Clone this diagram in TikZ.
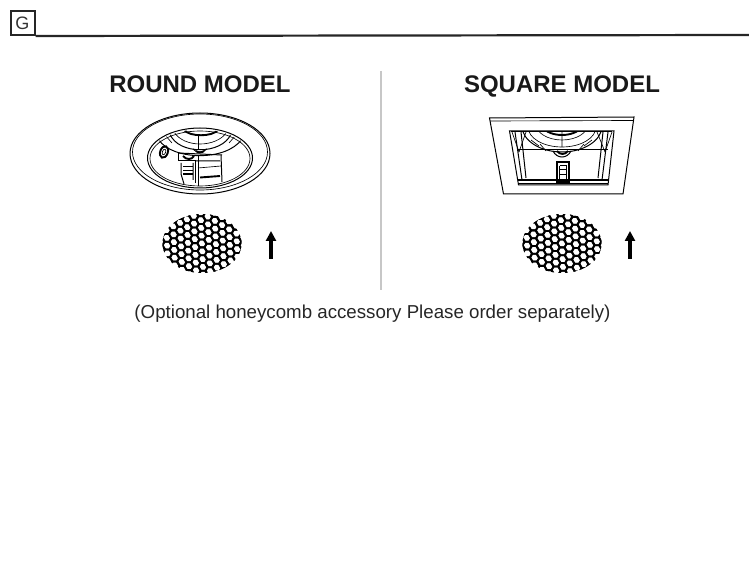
\documentclass[tikz,border=0pt]{standalone}
\usepackage{fontspec}
\setmainfont{Liberation Sans}
\usetikzlibrary{arrows.meta}
\tikzset{
  ln/.style={line width=1pt,black},
  fn/.style={line width=0.65pt,black},
  hv/.style={line width=1.9pt,black},
  heading/.style={font=\fontsize{24}{28}\selectfont\bfseries,text=black!90,inner sep=0pt,anchor=base},
  upper/.style={line width=3.3pt,-{Triangle[length=10pt,width=10pt]}},
  pics/honey/.style={code={
    \begin{scope}
      \clip (0,0) ellipse [x radius=39.5,y radius=29.5];
      \foreach \c in {-6,...,6}{
        \foreach \r in {-5,...,5}{
          \pgfmathsetmacro{\xx}{\c*7.0+0.35*\r}
          \pgfmathsetmacro{\yy}{(\r+0.5*mod(abs(\c),2))*7.8+0.35*\c}
          \draw[line width=1.8pt,black,line join=round,shift={(\xx,\yy)}]
            (-4.7,0) -- (-2.35,3.9) -- (2.35,3.9) -- (4.7,0) -- (2.35,-3.9) -- (-2.35,-3.9) -- cycle;
        }
      }
    \end{scope}
  }}
}
\begin{document}
\begin{tikzpicture}[x=1pt,y=-1pt]
\useasboundingbox (0,0) rectangle (749,561);
% header
\node[draw=black!85,line width=2pt,minimum width=24pt,minimum height=24pt,inner sep=0pt,font=\fontsize{18}{20}\selectfont,text=black!80] (G) at (22.5,23) {G};
\coordinate (hr) at (749,35);
\draw[line width=2.2pt,black!85] (G.south east) -- (hr);
% titles
\node[heading] (t1) at (200,93) {ROUND MODEL};
\node[heading] (t2) at (562,93) {SQUARE MODEL};
\draw[line width=1.6pt,black!22] (381,71) -- (381,290);
\node[font=\fontsize{18.7}{22}\selectfont,text=black!85,inner sep=0pt,anchor=base] (cap) at (372.5,318) {(Optional honeycomb accessory Please order separately)};

% ROUND fixture
\begin{scope}
\draw[ln] (200,153.5) ellipse [x radius=70,y radius=40.5];
\draw[fn] (200,152) ellipse [x radius=67.5,y radius=38];
\draw[ln] (200,158) ellipse [x radius=52.5,y radius=30];
\draw[fn] (200,158.5) ellipse [x radius=50,y radius=27.5];
\begin{scope}
\clip (200,158) ellipse [x radius=51,y radius=28.5];
\draw[ln] (170,134) .. controls (178,155) and (222,155) .. (231,134);
\draw[fn] (174,132) .. controls (184,148) and (216,148) .. (227,132);
\draw[hv] (184,130) .. controls (190,137) and (212,137) .. (218,130);
\draw[ln] (159,140) .. controls (172,160) and (226,162) .. (242,139);
\draw[fn] (165,135) -- (172,143) (236,135) -- (229,143);
\draw[fn] (198,135) -- (198,150);
\end{scope}
\draw[ln] (193,149) .. controls (196,153) and (203,153) .. (207,149);
\draw[hv] (196,151) .. controls (198,153) and (202,153) .. (204,151);
% knob
\draw[hv,rotate around={-20:(164,152)}] (164,152) ellipse [x radius=3.8,y radius=6];
\draw[fn,rotate around={-20:(164,152)}] (164,152) ellipse [x radius=1.6,y radius=3];
% brackets
\draw[ln] (178,153) -- (178,161) -- (195,161) -- (195,183);
\draw[ln] (178,153) -- (222,155) (195,161) -- (220,161);
\draw[ln] (181,163) -- (181,174) -- (184,184) (193,163) -- (193,180);
\draw[fn] (183,166) -- (193,166) (183,170) -- (193,170);
\draw[hv] (183,174) -- (193,174);
\draw[ln] (198,156) -- (198,186);
\draw[ln] (221,155) -- (222,182);
\draw[hv] (200,177.5) -- (220,176);
\draw[fn] (198,168) -- (221,166);
\draw[hv] (183,156) .. controls (186,160) and (192,160) .. (194,156);
\end{scope}

% SQUARE fixture
\begin{scope}
\draw[ln] (489.5,118) -- (634,117) -- (623,194) -- (503.5,194) -- cycle;
\draw[fn] (490,121) -- (633.5,120.5);
\draw[ln] (509.5,131) -- (614,131) -- (608,185) -- (518.5,185) -- cycle;
\draw[hv] (511,131.5) -- (612,131.5);
\draw[hv] (518,180) -- (608,180);
\draw[fn] (518,183) -- (608,183);
\draw[ln] (515,132) -- (522,180) (608,132) -- (602,180);
\draw[ln] (521,132) -- (526,178) (603,132) -- (598,178);
\draw[fn] (512,132) -- (519,152) (612,132) -- (605,152);
\draw[fn] (519,152) -- (526,132) (605,152) -- (597,132);
\draw[ln] (517,150) -- (608,150);
\begin{scope}
\clip (522,131.5) rectangle (602,158);
\draw[ln] (562,126) ellipse [x radius=40,y radius=26];
\draw[fn] (562,127) ellipse [x radius=34,y radius=20];
\draw[fn] (562,124) ellipse [x radius=26,y radius=16];
\draw[hv] (562,124) ellipse [x radius=20,y radius=11];
\draw[fn] (562,131) -- (562,147) (531,140) -- (539,146) (592,140) -- (584,146);
\draw[fn] (540,144) -- (546,151) (584,144) -- (578,151);
\end{scope}
\draw[ln] (553,151) .. controls (557,159) and (567,159) .. (571,151);
\draw[hv] (557,151) .. controls (560,155) and (565,155) .. (568,151);
% latch
\draw[hv] (557,162) rectangle (569,182);
\draw[ln] (559.5,166) -- (566.5,166) (559.5,170) -- (566.5,170) (559.5,175) -- (566.5,175) (559.5,166) -- (559.5,180) (566.5,166) -- (566.5,180);
\end{scope}

% honeycombs and arrows
\pic at (202,243.5) {honey};
\pic at (562,243.5) {honey};
\coordinate (a1s) at (271,259);
\coordinate (a1e) at (271,231);
\coordinate (a2s) at (630,259);
\coordinate (a2e) at (630,231);
\draw[upper] (a1s) -- (a1e);
\draw[upper] (a2s) -- (a2e);
\end{tikzpicture}
\end{document}
